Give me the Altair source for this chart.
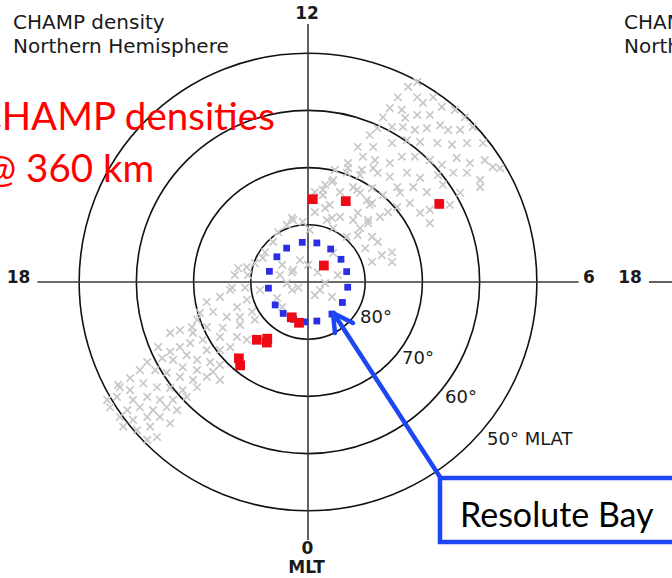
import altair as alt
import pandas as pd

# Polar grid: magnetic latitude rings (deg)
ring_mlat = [80, 70, 60, 50]

# CHAMP density events (red squares): magnetic local time (h), magnetic latitude (deg)
red_mlt = [11.78, 10.33, 9.07, 8.05, 22.35, 23.17, 21.23, 21.62, 21.72, 21.19, 21.39]
red_mlat = [75.5, 74.4, 86.0, 63.3, 83.2, 82.7, 76.5, 77.8, 77.2, 72.0, 71.2]

# Resolute Bay field-of-view ring (blue squares)
rb_mlt = [12.55, 11.15, 9.7, 8.3, 7.0, 5.5, 3.95, 2.45, 0.85, 23.7, 22.6,
          21.45, 20.33, 18.59, 16.97, 15.4, 14.15]
rb_mlat = [83.0, 83.0, 83.0, 83.0, 83.0, 83.0, 83.0, 83.0, 83.0, 83.0, 83.0,
           83.0, 83.0, 83.0, 83.0, 83.0, 83.0]

# CHAMP orbit-track samples (gray crosses), polar projected:
# east = toward 06 MLT, north = toward 12 MLT, in degrees from the pole
track_east = [
    17.5, 19.1, 15.7, 19.1, 21.9, 14.3, 16.4, 20.1, 23.4, 25.7,
    13.1, 17.0, 19.1, 21.3, 27.4, 10.8, 12.1, 14.7, 16.6, 18.7,
    20.8, 23.1, 24.5, 26.6, 28.8, 8.7, 11.4, 14.7, 17.3, 19.6,
    22.6, 25.2, 27.8, 30.6, 7.0, 9.6, 11.7, 14.3, 16.4, 18.7,
    21.3, 23.4, 26.0, 28.3, 30.9, 32.3, 4.4, 6.8, 9.1, 12.2,
    14.3, 17.3, 19.6, 22.7, 25.4, 27.8, 30.1, 33.6, 2.6, 5.6,
    7.9, 11.2, 15.6, 18.4, 20.8, 23.6, 26.6, 30.1, 9.1, 10.8,
    16.1, 15.6, 17.8, 12.6, 7.9, 10.5, 21.3, 19.6, 24.8, 21.3,
    3.8, 5.6, -2.6, -0.9, 3.3, 4.4, 0.3, 6.8, -7.9, -9.3,
    -1.4, -10.7, 8.6, 10.3,
    9.1, 11.2, 4.4, -2.6, -4.9,
    -2.8, 2.1, 4.2, -5.4, -4.5, -8.4, -10.7, -12.4, -9.8, -13.6,
    -15.4, -17.7, -16.6, -14.2, -18.9, -20.3, -17.7, -14.9, -11.9, -9.3, -15.4, -12.4,
    -19.4, -11.9, -10.7, -18.4, -13.6, -15.4, -17.7, -20.6, -20.1, -22.4,
    -24.1, -26.2, -24.1, -22.4, -21.2, -23.6, -25.5, -19.4, -17.1, -15.4,
    -16.6, -19.4, -21.9, -28.1, -29.4, -26.7, -24.7, -22.4, -20.1, -17.7,
    -15.4, -31.1, -32.9, -31.1, -28.8, -26.4, -24.1, -21.9, -19.4, -21.2,
    -23.6, -25.9, -28.1, -30.6, -33.4, -35.1, -31.6, -29.4, -27.1, -24.7,
    -22.9, -25.9, -28.1, -30.6, -27.6, -29.9, -32.9, -26.4, -28.1, -32.3,
    -24.1, -34.6, -33.2,
    4.7, 7.0, 9.4, 11.4, 3.0, 4.2, 2.6, 1.2, 3.0, 1.2,
    4.2, 8.7, 11.2, 13.1, 14.0, 10.5, 8.7, 12.2, 12.9, 14.7,
    14.7, 10.0, 11.2, -2.8, -3.7, -5.2, -6.1, -7.5, -12.2, -12.8,
    -13.3, -10.5, -11.0, -4.5, -2.8, -3.7, -1.7, 0.0, 1.2, 3.0,
    1.7, 5.2,
]
track_north = [
    34.1, 35.0, 32.3, 32.3, 32.3, 30.4, 30.1, 31.3, 30.6, 30.1,
    28.8, 28.7, 29.2, 29.2, 28.8, 25.7, 26.9, 27.1, 27.1, 26.6,
    26.9, 27.4, 26.6, 26.6, 27.1, 23.6, 23.6, 24.3, 24.8, 24.5,
    24.3, 24.0, 24.3, 24.3, 20.8, 21.9, 21.3, 20.8, 21.9, 21.9,
    21.3, 20.5, 21.7, 20.8, 21.3, 20.1, 17.8, 19.1, 18.7, 19.1,
    18.4, 19.1, 18.2, 18.7, 19.1, 19.1, 17.8, 19.9, 16.1, 15.7,
    16.6, 16.4, 16.6, 16.6, 15.7, 17.0, 15.6, 16.6, 15.6, 13.5,
    15.6, 13.1, 13.8, 11.4, 10.8, 10.3, 10.3, 12.1, 13.5, 12.6,
    13.5, 11.4, 10.8, 10.5, 10.8, 9.4, 9.1, 7.9, 4.2, 3.3,
    3.8, 2.6, 16.1, 14.3,
    9.4, 7.9, 5.1, 2.1, 1.2,
    -1.4, -1.4, -2.6, -2.8, -4.4, -1.4, -3.1, -4.4, -5.2, -1.4,
    -2.6, -3.5, -5.2, -6.1, -5.4, -7.9, -7.9, -8.0, -7.5, -6.6, -9.6, -9.6,
    -6.6, -6.1, -10.1, -10.1, -11.4, -11.9, -11.9, -10.7, -8.9, -8.4,
    -8.9, -11.4, -12.2, -11.4, -12.8, -13.6, -13.3, -13.6, -14.0, -14.5,
    -15.7, -15.4, -14.9, -14.0, -15.4, -15.4, -15.9, -16.6, -17.1, -16.6,
    -17.1, -16.8, -18.4, -18.9, -17.7, -18.4, -18.5, -18.9, -18.4, -20.1,
    -20.6, -20.6, -20.1, -20.6, -20.1, -20.6, -22.4, -21.9, -22.4, -21.9,
    -22.4, -23.6, -23.6, -24.1, -25.3, -25.9, -23.6, -27.1, -27.6, -25.3,
    -24.7, -21.9, -18.0,
    19.6, 19.9, 19.6, 19.9, 17.0, 17.5, 15.2, 15.7, 12.9, 12.2,
    11.2, 12.1, 13.8, 15.2, 12.2, 10.8, 8.2, 7.0, 4.7, 5.2,
    3.5, 5.9, 3.5, 11.2, 10.0, 8.7, 7.0, 5.2, 2.4, 1.2,
    -1.0, 1.2, -1.0, 3.0, 1.7, -0.2, -1.0, 3.0, -2.3, -0.2,
    1.7, 1.2,
]

# Extent of the MLT cross-hair, degrees from the pole
cross_half_width = 47.3
cross_half_height = 45.1

# Canvas and projection frame (degrees from the pole)
W, H = 672, 578
X0, X1 = -53.85, 63.64
Y0, Y1 = -51.75, 49.30
PX_PER_DEG = W / (X1 - X0)

xs = alt.Scale(domain=[X0, X1], nice=False, zero=False)
ys = alt.Scale(domain=[Y0, Y1], nice=False, zero=False)


def xe(f):
    return alt.X(f, scale=xs, axis=None)


def ye(f):
    return alt.Y(f, scale=ys, axis=None)


polar_xy = dict(
    px="(90 - datum.mlat) * sin(datum.mlt * PI / 12)",
    py="-(90 - datum.mlat) * cos(datum.mlt * PI / 12)",
)

rings = alt.Chart(pd.DataFrame({"mlat": ring_mlat})).transform_calculate(
    colat="90 - datum.mlat", cx="0", cy="0"
).mark_arc(theta=0, theta2=6.2832, fill="transparent", stroke="#111111", strokeWidth=1.6).encode(
    x=xe("cx:Q"),
    y=ye("cy:Q"),
    radius=alt.Radius(
        "colat:Q", stack=None,
        scale=alt.Scale(type="linear", domain=[0, 40], range=[0, 40 * PX_PER_DEG]),
    ),
)

cross_df = pd.DataFrame({
    "x1": [-cross_half_width, 0.0],
    "x2": [cross_half_width, 0.0],
    "y1": [0.0, -cross_half_height],
    "y2": [0.0, cross_half_height],
})
crosshair = alt.Chart(cross_df).mark_rule(color="#3a3a3a", strokeWidth=1.6).encode(
    x=xe("x1:Q"), x2="x2:Q", y=ye("y1:Q"), y2="y2:Q"
)

track = alt.Chart(pd.DataFrame({"e": track_east, "n": track_north})).mark_point(
    shape="M-1,-1L1,1M-1,1L1,-1", filled=False, stroke="#c8c8c8", strokeWidth=1.7, size=56, opacity=1
).encode(x=xe("e:Q"), y=ye("n:Q"))

station = alt.Chart(pd.DataFrame({"mlt": rb_mlt, "mlat": rb_mlat})).transform_calculate(
    **polar_xy
).mark_square(size=46, color="#2a2ee6", opacity=1).encode(x=xe("px:Q"), y=ye("py:Q"))

events = alt.Chart(pd.DataFrame({"mlt": red_mlt, "mlat": red_mlat})).transform_calculate(
    **polar_xy
).mark_square(size=95, color="#ee0a14", opacity=1).encode(x=xe("px:Q"), y=ye("py:Q"))


def label(txt, x, y, size, color="#1a1a1a", font="DejaVu Sans", align="left", weight="normal"):
    return alt.Chart(pd.DataFrame({"t": [txt]})).mark_text(
        align=align, baseline="alphabetic", font=font, fontSize=size, color=color, fontWeight=weight
    ).encode(x=alt.value(x), y=alt.value(y), text="t:N")


labels = [
    label("CHAMP density", 13, 29, 20),
    label("Northern Hemisphere", 13, 53, 20),
    label("CHAMP density", 624, 29, 20),
    label("Northern Hemisphere", 624, 53, 20),
    label("12", 307, 19, 17, align="center", weight="bold"),
    label("18", 18.5, 283, 17, align="center", weight="bold"),
    label("6", 589, 283, 17, align="center", weight="bold"),
    label("18", 630, 283, 17, align="center", weight="bold"),
    label("0", 307.5, 554, 17, align="center", weight="bold"),
    label("MLT", 306.5, 573, 17, align="center", weight="bold"),
    label("80°", 360, 323, 18),
    label("70°", 402, 364, 18),
    label("60°", 445, 403, 18),
    label("50° MLAT", 487, 445, 18),
    label("CHAMP densities", -24, 130, 38.5, color="#ff0000", font="Lato"),
    label("@ 360 km", -16, 182, 38.5, color="#ff0000", font="Lato"),
]

# second panel's 18 MLT axis stub
stub = alt.Chart(pd.DataFrame({"a": [0]})).mark_rule(color="#3a3a3a", strokeWidth=1.6).encode(
    x=alt.value(649), x2=alt.value(680), y=alt.value(282)
)

blue = "#1d46f5"
arrow_shaft = alt.Chart(pd.DataFrame({"a": [0]})).mark_rule(color=blue, strokeWidth=4.5, strokeCap="round").encode(
    x=alt.value(440), x2=alt.value(334), y=alt.value(477), y2=alt.value(314)
)
arrow_head1 = alt.Chart(pd.DataFrame({"a": [0]})).mark_rule(color=blue, strokeWidth=4.5, strokeCap="round").encode(
    x=alt.value(333), x2=alt.value(353), y=alt.value(313), y2=alt.value(323)
)
arrow_head2 = alt.Chart(pd.DataFrame({"a": [0]})).mark_rule(color=blue, strokeWidth=4.5, strokeCap="round").encode(
    x=alt.value(333), x2=alt.value(335), y=alt.value(313), y2=alt.value(333)
)
box = alt.Chart(pd.DataFrame({"a": [0]})).mark_rect(fill="white", stroke=blue, strokeWidth=4.5).encode(
    x=alt.value(440), x2=alt.value(700), y=alt.value(478), y2=alt.value(542)
)
box_text = label("Resolute Bay", 460, 527, 34, color="#000000", font="Lato")

chart = alt.layer(
    rings, crosshair, stub, track, station, events,
    arrow_shaft, arrow_head1, arrow_head2, box, box_text, *labels
).properties(
    width=W, height=H, padding=0, autosize=alt.AutoSizeParams(type="none"), background="white"
).configure_view(strokeWidth=0)

chart.save("out.html", embed_options={"renderer": "svg", "actions": False})
